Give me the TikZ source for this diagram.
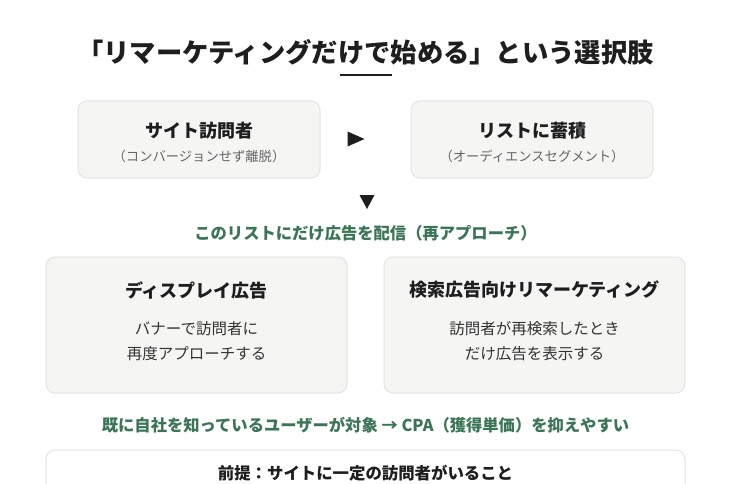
\documentclass[tikz,border=0pt]{standalone}
\usepackage{fontspec}
\setmainfont{Noto Sans CJK JP}
\definecolor{boxfill}{HTML}{F5F5F4}
\definecolor{boxline}{HTML}{E3E3E1}
\definecolor{accent}{HTML}{3A7556}
\definecolor{ink}{HTML}{1E1E1E}
\definecolor{subink}{HTML}{666666}
\definecolor{bodyink}{HTML}{333333}
\tikzset{
  card/.style={draw=boxline, fill=boxfill, rounded corners=9pt, line width=1pt, inner sep=0pt},
  whitecard/.style={draw=boxline, fill=white, rounded corners=9pt, line width=1pt, inner sep=0pt},
  titletext/.style={text=ink, font=\fontsize{26.3}{30}\selectfont\bfseries, inner sep=0pt},
  headtext/.style={text=ink, font=\fontsize{18}{22}\selectfont\bfseries, inner sep=0pt},
  subtext/.style={text=subink, font=\fontsize{13.3}{16}\selectfont, inner sep=0pt},
  bodytext/.style={text=bodyink, font=\fontsize{15.5}{25}\selectfont, inner sep=0pt, align=center},
  greentext/.style={text=accent, font=\fontsize{16.3}{20}\selectfont\bfseries, inner sep=0pt},
  marker/.style={fill=ink, draw=none},
}
\begin{document}
\begin{tikzpicture}[x=1pt,y=-1pt]
\useasboundingbox (0,0) rectangle (731,484);
\fill[white] (0,0) rectangle (731,484);

% title
\node[titletext] (title) at (365.5,52) {「リマーケティングだけで始める」という選択肢};
\coordinate (ulA) at (340,75);
\coordinate (ulB) at (392,75);
\draw[ink, line width=2.4pt] (ulA) -- (ulB);

% top row
\node[card, minimum width=242pt, minimum height=77pt] (visitor) at (199,139.5) {};
\node[headtext] (visitorH) at (199,131) {サイト訪問者};
\node[subtext] (visitorS) at (199,156) {（コンバージョンせず離脱）};

\node[card, minimum width=242pt, minimum height=77pt] (list) at (532,139.5) {};
\node[headtext] (listH) at (532,131) {リストに蓄積};
\node[subtext] (listS) at (532,156) {（オーディエンスセグメント）};

% right triangle
\coordinate (rt) at (356,139);
\fill[marker] ([shift={(-8.5,-7.5)}]rt) -- ([shift={(8.5,0)}]rt) -- ([shift={(-8.5,7.5)}]rt) -- cycle;
% down triangle
\coordinate (dt) at (367,202);
\fill[marker] ([shift={(-7.5,-7)}]dt) -- ([shift={(7.5,-7)}]dt) -- ([shift={(0,7)}]dt) -- cycle;

\node[greentext] (deliver) at (365.5,233) {このリストにだけ広告を配信（再アプローチ）};

% middle row
\node[card, minimum width=301pt, minimum height=136pt] (display) at (196.5,325) {};
\node[headtext] (displayH) at (196.5,290) {ディスプレイ広告};
\node[bodytext] (displayB) at (196.5,341) {バナーで訪問者に\\再度アプローチする};

\node[card, minimum width=301pt, minimum height=136pt] (search) at (534.5,325) {};
\node[headtext] (searchH) at (534.5,290) {検索広告向けリマーケティング};
\node[bodytext] (searchB) at (534.5,341) {訪問者が再検索したとき\\だけ広告を表示する};

\node[greentext] (benefit) at (365.5,425) {既に自社を知っているユーザーが対象 → CPA（獲得単価）を抑えやすい};

% bottom card
\node[whitecard, minimum width=639pt, minimum height=70pt] (premise) at (365.5,485) {};
\node[headtext, font=\fontsize{16.4}{20}\selectfont\bfseries] (premiseT) at (365.5,473) {前提：サイトに一定の訪問者がいること};
\end{tikzpicture}
\end{document}
